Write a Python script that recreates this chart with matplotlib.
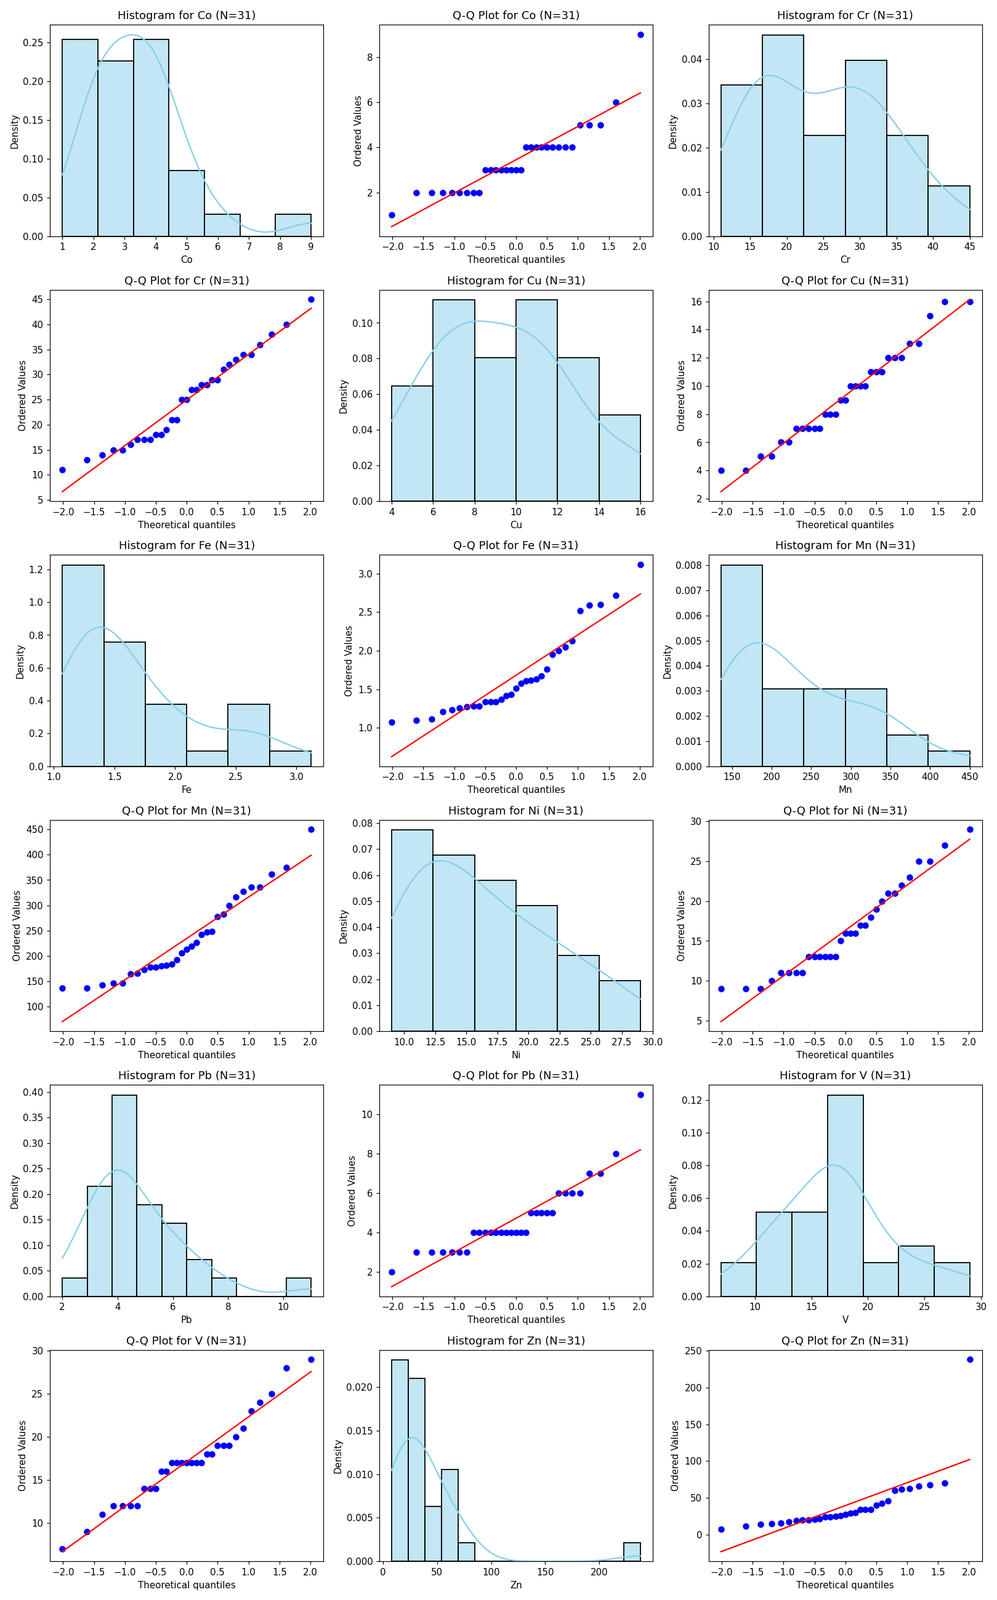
import numpy as np
import matplotlib
matplotlib.use('Agg')
from matplotlib import pyplot as plt
import seaborn as sns
from statistics import NormalDist

# element concentrations (31 samples each)
Co = [1, 2, 2, 2, 2, 2, 2, 2, 2, 3, 3, 3, 3, 3, 3, 3, 3,
      4, 4, 4, 4, 4, 4, 4, 4, 4, 5, 5, 5, 6, 9]
Cr = [11, 13, 14, 15, 15, 16, 17, 17, 17, 18, 18, 19, 21, 21, 25, 25,
      27, 27, 28, 28, 29, 29, 31, 32, 33, 34, 34, 36, 38, 40, 45]
Cu = [4, 4, 5, 5, 6, 6, 7, 7, 7, 7, 7, 8, 8, 8, 9, 9,
      10, 10, 10, 10, 11, 11, 11, 12, 12, 12, 13, 13, 15, 16, 16]
Fe = [1.07, 1.10, 1.11, 1.21, 1.23, 1.26, 1.27, 1.28, 1.28, 1.34, 1.34,
      1.34, 1.37, 1.42, 1.43, 1.51, 1.58, 1.61, 1.62, 1.63, 1.67, 1.76,
      1.95, 2.00, 2.05, 2.13, 2.52, 2.59, 2.60, 2.72, 3.12]
Mn = [136, 137, 143, 146, 146, 165, 166, 173, 178, 178, 180, 181, 184,
      193, 206, 213, 219, 227, 242, 247, 249, 278, 282, 300, 316, 328,
      336, 336, 361, 375, 450]
Ni = [9, 9, 9, 10, 11, 11, 11, 11, 13, 13, 13, 13, 13, 13, 15, 16,
      16, 16, 17, 17, 18, 19, 20, 21, 21, 22, 23, 25, 25, 27, 29]
Pb = [2, 3, 3, 3, 3, 3, 3, 4, 4, 4, 4, 4, 4, 4, 4, 4, 4, 4,
      5, 5, 5, 5, 5, 6, 6, 6, 6, 7, 7, 8, 11]
V = [7, 9, 11, 12, 12, 12, 12, 14, 14, 14, 16, 16, 17, 17, 17, 17,
     17, 17, 17, 18, 18, 19, 19, 19, 20, 21, 23, 24, 25, 28, 29]
Zn = [8, 12, 14, 15, 16, 18, 19, 20, 20, 21, 22, 24, 24, 25, 26, 28,
      29, 30, 34, 34, 34, 40, 43, 46, 60, 62, 63, 66, 68, 70, 238]

elements = ['Co', 'Cr', 'Cu', 'Fe', 'Mn', 'Ni', 'Pb', 'V', 'Zn']
values = [Co, Cr, Cu, Fe, Mn, Ni, Pb, V, Zn]


def old_auto_bins(x):
    # older numpy 'auto' rule: the finer of Freedman-Diaconis and Sturges
    fd = np.histogram_bin_edges(x, 'fd')
    st = np.histogram_bin_edges(x, 'sturges')
    return fd if len(fd) > len(st) else st


def qq_points(x):
    # same as scipy.stats.probplot (Filliben order statistic medians)
    osr = np.sort(np.asarray(x, dtype=float))
    n = len(osr)
    m = np.empty(n)
    m[-1] = 0.5 ** (1.0 / n)
    m[0] = 1 - m[-1]
    i = np.arange(2, n)
    m[1:-1] = (i - 0.3175) / (n + 0.365)
    nd = NormalDist()
    osm = np.array([nd.inv_cdf(p) for p in m])
    slope, intercept = np.polyfit(osm, osr, 1)
    return osm, osr, slope, intercept


fig, axes = plt.subplots(6, 3, figsize=(15, 24.08))
axes = axes.flatten()

k = 0
for name, x in zip(elements, values):
    n = len(x)
    arr = np.asarray(x, dtype=float)
    # histogram + kde
    ax = axes[k]
    sns.histplot(arr, bins=old_auto_bins(arr), kde=True, stat='density',
                 color='skyblue', edgecolor='black', linewidth=1.2, ax=ax)
    ax.set_title(f'Histogram for {name} (N={n})')
    ax.set_xlabel(name)
    ax.set_ylabel('Density')
    k += 1

    # Q-Q plot
    ax = axes[k]
    osm, osr, slope, intercept = qq_points(x)
    ax.plot(osm, osr, 'bo')
    ax.plot(osm, slope * osm + intercept, 'r-')
    ax.set_title(f'Q-Q Plot for {name} (N={n})')
    ax.set_xlabel('Theoretical quantiles')
    ax.set_ylabel('Ordered Values')
    k += 1

plt.tight_layout()
plt.savefig('out.png', dpi=1619 / 15)
